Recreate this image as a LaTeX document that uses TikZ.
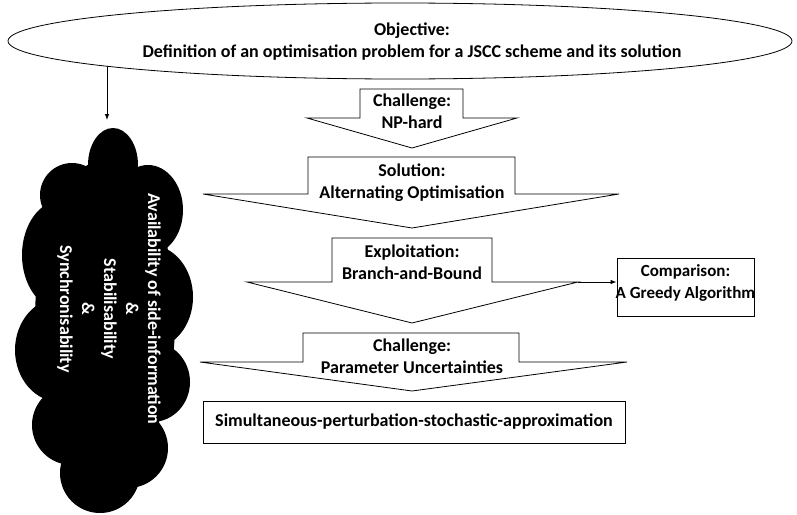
\documentclass[tikz,border=0pt]{standalone}
\usepackage{fontspec}
\setmainfont{Carlito}
\usetikzlibrary{arrows.meta,shapes.geometric}
\begin{document}
\begin{tikzpicture}[x=1pt,y=-1pt,
  txt/.style={font=\fontsize{18}{22}\selectfont\bfseries, align=center, inner sep=0pt},
  smalltxt/.style={font=\fontsize{17}{22}\selectfont\bfseries, align=center, inner sep=0pt},
  callout/.style={draw=black, line width=0.8pt, fill=white, line join=miter},
  plainbox/.style={draw=black, line width=0.8pt, fill=white},
  conn/.style={draw=black, line width=0.8pt, -{Latex[length=6pt,width=4.5pt]}},
  puff/.style={fill=black},
]
\useasboundingbox (0,0) rectangle (797,514);

% Objective ellipse
\node[draw, ellipse, line width=0.8pt, minimum width=784pt, minimum height=76pt, inner sep=0pt] (obj) at (400,41) {};
\node[txt] (objtxt) at (412,42) {Objective:\\Definition of an optimisation problem for a JSCC scheme and its solution};

% Cloud
\fill[puff] (105,320) ellipse[x radius=70pt, y radius=160pt];
\fill[puff] (113,165) ellipse[x radius=25pt, y radius=37pt];
\fill[puff] (72,195) circle[radius=32pt];
\fill[puff] (148,210) ellipse[x radius=35pt, y radius=45pt];
\fill[puff] (62,255) ellipse[x radius=40pt, y radius=55pt];
\fill[puff] (150,297) ellipse[x radius=43pt, y radius=52pt];
\fill[puff] (60,350) ellipse[x radius=45pt, y radius=52pt];
\fill[puff] (152,382) ellipse[x radius=38pt, y radius=40pt];
\fill[puff] (72,425) circle[radius=40pt];
\fill[puff] (128,448) circle[radius=40pt];
\fill[puff] (100,473) circle[radius=40pt];
\node[txt, text=white, rotate=-90] (cloudtxt) at (109,309) {Availability of side-information\\\&\\Stabilisability\\\&\\Synchronisability};
\coordinate (objfoot) at (107,66);
\coordinate (cloudtop) at (107,120);
\draw[conn] (objfoot) -- (cloudtop);

% Callout 1
\draw[callout] (360,89) -- (463,89) -- (463,118) -- (517,118) -- (412,148) -- (307,118) -- (360,118) -- cycle;
\node[txt] (c1) at (412,111) {Challenge:\\NP-hard};

% Callout 2
\draw[callout] (308,157) -- (515,157) -- (515,194) -- (619,194) -- (412,228) -- (203,194) -- (308,194) -- cycle;
\node[txt] (c2) at (412,183) {Solution:\\Alternating Optimisation};

% Callout 3
\draw[callout] (332,238) -- (492,238) -- (492,282) -- (578,282) -- (412,323) -- (247,282) -- (332,282) -- cycle;
\node[txt] (c3) at (412,262) {Exploitation:\\Branch-and-Bound};
\coordinate (exwing) at (578,282);

% Comparison box
\node[plainbox, minimum width=137pt, minimum height=58pt] (greedy) at (685.5,287) {};
\node[smalltxt] (greedytxt) at (685.5,283) {Comparison:\\A Greedy Algorithm};
\draw[conn] (exwing) -- (exwing -| greedy.west);

% Callout 4
\draw[callout] (303,333) -- (519,333) -- (519,362) -- (627,362) -- (412,391) -- (200,362) -- (303,362) -- cycle;
\node[txt] (c4) at (412,356) {Challenge:\\Parameter Uncertainties};

% SPSA box
\node[plainbox, txt, minimum width=422pt, minimum height=42pt] (spsa) at (414,422) {Simultaneous-perturbation-stochastic-approximation};
\end{tikzpicture}
\end{document}
